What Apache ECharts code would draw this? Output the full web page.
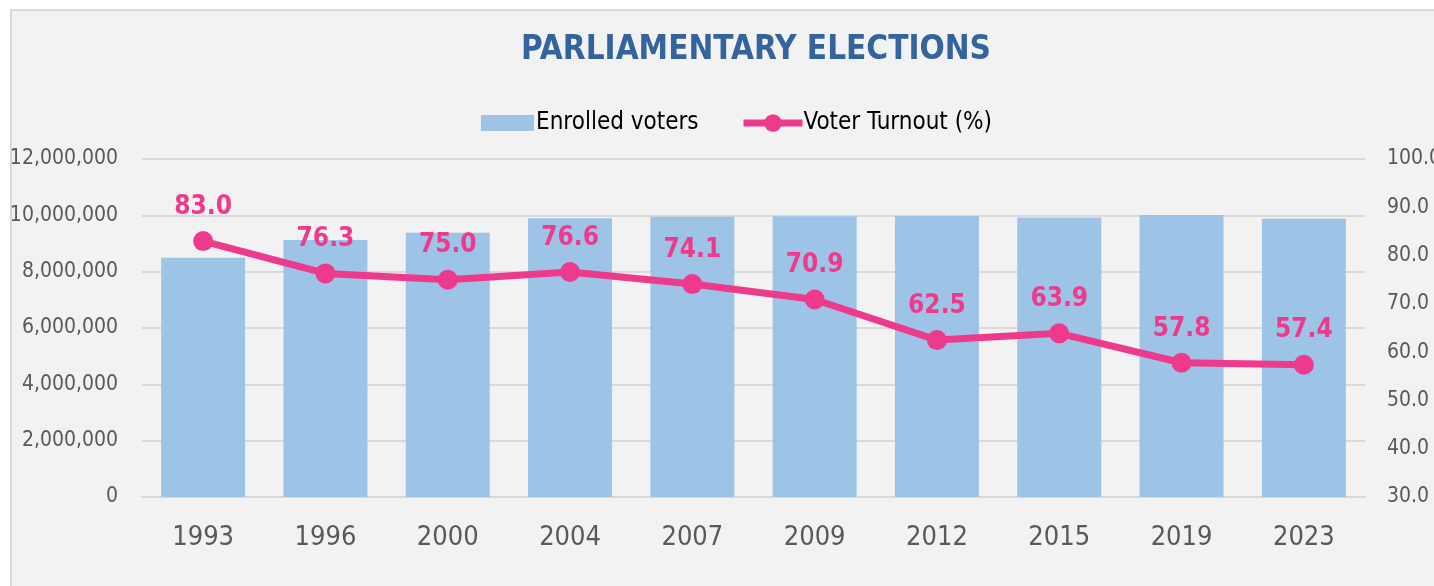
<!DOCTYPE html>
<html>
<head>
<meta charset="utf-8">
<script src="https://cdn.jsdelivr.net/npm/echarts@6/dist/echarts.min.js"></script>
<style>
html,body{margin:0;padding:0;background:#ffffff;width:1434px;height:586px;overflow:hidden;}
#frame{position:absolute;left:10px;top:9px;width:1440px;height:600px;background:#F2F2F2;border:2px solid #D9D9D9;box-sizing:border-box;}
#chart{position:absolute;left:0;top:0;width:1434px;height:586px;}
</style>
</head>
<body>
<div id="frame"></div>
<div id="chart"></div>
<script>
const FONT = '"Liberation Sans Narrow", "DejaVu Sans Condensed", "Roboto", sans-serif';
const titleText = 'PARLIAMENTARY ELECTIONS';
const years = ['1993','1996','2000','2004','2007','2009','2012','2015','2019','2023'];
const enrolledVoters = [8490000, 9120000, 9380000, 9900000, 9950000, 9970000, 9980000, 9920000, 10010000, 9880000];
const turnout = [83.0, 76.3, 75.0, 76.6, 74.1, 70.9, 62.5, 63.9, 57.8, 57.4];
const seriesNames = ['Enrolled voters', 'Voter Turnout (%)'];

const chart = echarts.init(document.getElementById('chart'), null, {renderer:'canvas'});
chart.setOption({
  backgroundColor: 'transparent',
  animation: false,
  textStyle: {fontFamily: FONT},
  title: {
    text: titleText,
    left: 751, top: 29, textAlign: 'center',
    textStyle: {fontFamily: FONT, fontSize: 33, fontWeight: 'bold', color: '#33649D'}
  },
  legend: [
    {
      left: 476, top: 106,
      itemWidth: 53, itemHeight: 16,
      textStyle: {fontFamily: FONT, fontSize: 24, color: '#000000', padding:[0,0,0,-3]},
      data: [{name: seriesNames[0], icon: 'rect'}]
    },
    {
      left: 735, top: 106,
      itemWidth: 59, itemHeight: 22,
      textStyle: {fontFamily: FONT, fontSize: 24, color: '#000000', padding:[0,0,0,-4]},
      lineStyle: {width: 7, color: '#EE3A8C'},
      data: [{name: seriesNames[1]}]
    }
  ],
  grid: {left: 142, right: 69, top: 159, bottom: 89, containLabel: false, outerBoundsMode: 'none'},
  xAxis: {
    type: 'category', data: years,
    axisTick: {show: false},
    axisLine: {lineStyle: {color: '#D9D9D9', width: 2}},
    axisLabel: {fontFamily: FONT, fontSize: 27, color: '#595959', margin: 27}
  },
  yAxis: [
    {
      type: 'value', min: 0, max: 12000000, interval: 2000000,
      axisLine: {show: false}, axisTick: {show: false},
      splitLine: {lineStyle: {color: '#D9D9D9', width: 2}},
      axisLabel: {fontFamily: FONT, fontSize: 21, color: '#595959', margin: 24,
        formatter: v => v.toLocaleString('en-US')}
    },
    {
      type: 'value', min: 30, max: 100, interval: 10,
      axisLine: {show: false}, axisTick: {show: false},
      splitLine: {show: false},
      axisLabel: {fontFamily: FONT, fontSize: 21, color: '#595959', margin: 22,
        formatter: v => v.toFixed(1)}
    }
  ],
  series: [
    {
      name: seriesNames[0], type: 'bar', data: enrolledVoters,
      barWidth: 84, itemStyle: {color: '#9DC3E6'}, z: 1
    },
    {
      name: seriesNames[1], type: 'line', yAxisIndex: 1, data: turnout,
      symbol: 'circle', symbolSize: 20,
      lineStyle: {color: '#EE3A8C', width: 7},
      itemStyle: {color: '#EE3A8C'},
      label: {show: true, position: 'top', distance: 11,
        fontFamily: FONT, fontSize: 26, fontWeight: 'bold', color: '#EE3A8C',
        formatter: p => p.value.toFixed(1)},
      z: 3
    }
  ]
});
</script>
</body>
</html>
